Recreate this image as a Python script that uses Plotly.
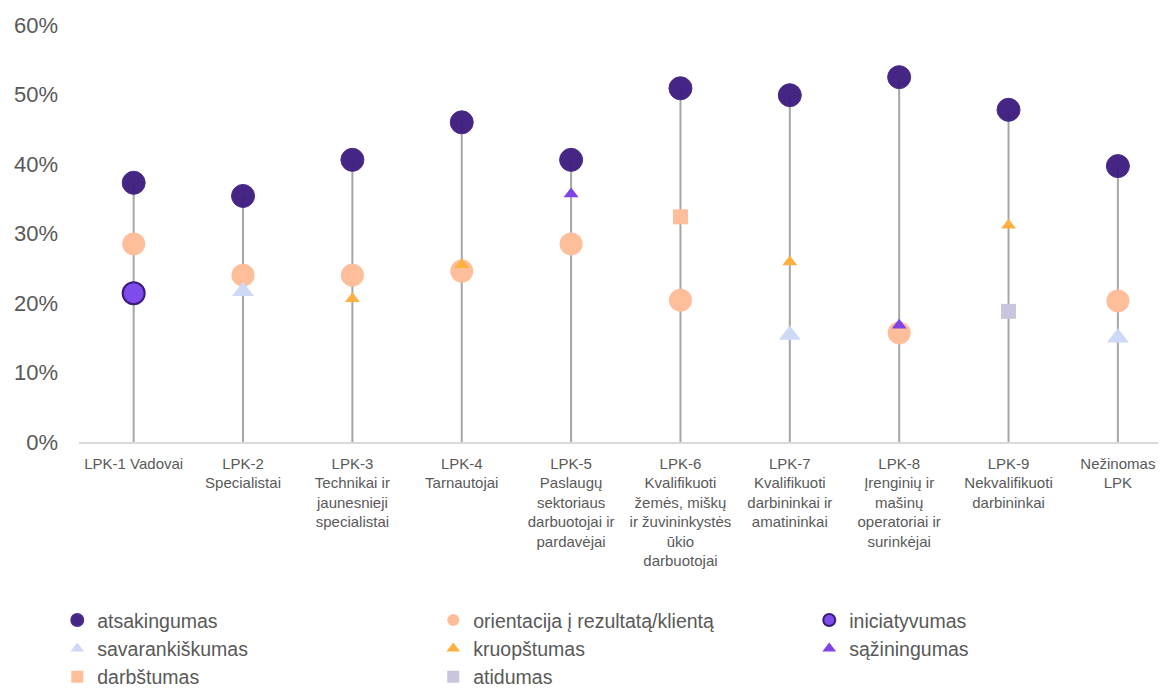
import plotly.graph_objects as go

categories = [
    "LPK-1 Vadovai",
    "LPK-2<br>Specialistai",
    "LPK-3<br>Technikai ir<br>jaunesnieji<br>specialistai",
    "LPK-4<br>Tarnautojai",
    "LPK-5<br>Paslaugų<br>sektoriaus<br>darbuotojai ir<br>pardavėjai",
    "LPK-6<br>Kvalifikuoti<br>žemės, miškų<br>ir žuvininkystės<br>ūkio<br>darbuotojai",
    "LPK-7<br>Kvalifikuoti<br>darbininkai ir<br>amatininkai",
    "LPK-8<br>Įrenginių ir<br>mašinų<br>operatoriai ir<br>surinkėjai",
    "LPK-9<br>Nekvalifikuoti<br>darbininkai",
    "Nežinomas<br>LPK",
]

y_tick_values = [0, 10, 20, 30, 40, 50, 60]
y_tick_labels = ["0%", "10%", "20%", "30%", "40%", "50%", "60%"]

atsakingumas = [37.3, 35.4, 40.6, 46.0, 40.6, 50.9, 49.9, 52.5, 47.8, 39.7]
orientacija = [28.5, 24.0, 24.0, 24.6, 28.5, 20.4, None, 15.7, None, 20.3]
iniciatyvumas = [21.4, None, None, None, None, None, None, None, None, None]
savarankiskumas = [None, 21.7, None, None, None, None, 15.4, None, None, 15.0]
kruopstumas = [None, None, 20.6, 25.5, None, None, 25.9, None, 31.2, None]
saziningumas = [None, None, None, None, 35.7, None, None, 16.8, None, None]
darbstumas = [None, None, None, None, None, 32.4, None, None, None, None]
atidumas = [None, None, None, None, None, None, None, None, 18.8, None]

series = [
    ("atsakingumas", atsakingumas),
    ("orientacija į rezultatą/klientą", orientacija),
    ("iniciatyvumas", iniciatyvumas),
    ("savarankiškumas", savarankiskumas),
    ("kruopštumas", kruopstumas),
    ("sąžiningumas", saziningumas),
    ("darbštumas", darbstumas),
    ("atidumas", atidumas),
]

styles = {
    "atsakingumas": dict(symbol="circle", size=23, color="rgba(59,26,126,0.95)", line=dict(color="#4B2C8C", width=1)),
    "orientacija į rezultatą/klientą": dict(symbol="circle", size=23, color="#FFBE9A", line=dict(width=0)),
    "iniciatyvumas": dict(symbol="circle", size=22, color="#7F4BEA", line=dict(color="#3B1A7E", width=2)),
    "savarankiškumas": dict(symbol="triangle-up", size=19, color="#CDD9F6", line=dict(width=0)),
    "kruopštumas": dict(symbol="triangle-up", size=13, color="#FFB040", line=dict(width=0)),
    "sąžiningumas": dict(symbol="triangle-up", size=13, color="#7E44E6", line=dict(width=0)),
    "darbštumas": dict(symbol="square", size=15, color="#FFBE9A", line=dict(width=0)),
    "atidumas": dict(symbol="square", size=15, color="#C8C6DE", line=dict(width=0)),
}

# stems from 0 up to the highest value in each category
stem_x, stem_y = [], []
for i, c in enumerate(categories):
    vals = [s[1][i] for s in series if s[1][i] is not None]
    stem_x += [c, c, None]
    stem_y += [0, max(vals), None]

fig = go.Figure()
fig.add_trace(go.Scatter(x=stem_x, y=stem_y, mode="lines",
                         line=dict(color="#A6A6A6", width=2),
                         showlegend=False, hoverinfo="skip"))

for name, vals in series:
    fig.add_trace(go.Scatter(x=categories, y=vals, mode="markers", name=name,
                             marker=styles[name]))

fig.update_layout(
    width=1158, height=683,
    margin=dict(l=71, r=0, t=17, b=249, autoexpand=False),
    paper_bgcolor="white", plot_bgcolor="white",
    font=dict(family="Liberation Sans, Arial, sans-serif", color="#595959"),
    showlegend=True,
    legend=dict(orientation="h", x=-0.020, xanchor="left", y=-0.381, yanchor="top",
                font=dict(size=19.5, color="#595959"),
                entrywidth=331, entrywidthmode="pixels",
                itemsizing="constant", tracegroupgap=0, traceorder="normal"),
)
fig.update_xaxes(type="category", range=[-0.5, 9.44],
                 showline=True, linecolor="#D9D9D9", linewidth=1.5,
                 showgrid=False, ticks="", tickfont=dict(size=15, color="#595959"),
                 tickangle=0, zeroline=False, ticklabelstandoff=7, automargin=False)
fig.update_yaxes(range=[0, 60], tickvals=y_tick_values, ticktext=y_tick_labels,
                 showgrid=False, zeroline=False, showline=False,
                 tickfont=dict(size=22, color="#595959"), ticklabelstandoff=20,
                 automargin=False)

fig.write_html("out.html")
